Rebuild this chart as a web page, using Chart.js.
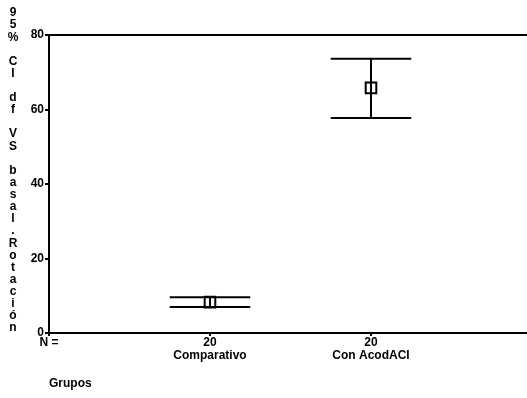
<!DOCTYPE html>
<html>
<head>
<meta charset="utf-8">
<script src="https://cdn.jsdelivr.net/npm/chart.js@4/dist/chart.umd.min.js"></script>
<style>
  html, body { margin: 0; padding: 0; background: #fff; }
  #wrap { width: 527px; height: 398px; }
</style>
</head>
<body>
<div id="wrap"><canvas id="c" width="527" height="398"></canvas></div>
<script>
// Groups, sample sizes and 95% confidence intervals
const groups = ['Comparativo', 'Con AcodACI'];
const nCounts = ['20', '20'];
const means = [8.3, 65.8];
const lower = [7.0, 57.7];
const upper = [9.6, 73.6];
const yTicks = [0, 20, 40, 60, 80];
const yTitle = '95% CI df VS basal.Rotación';
const xTitle = 'Grupos';
const nLabel = 'N =';

const capHalf = 0.25;
const ink = '#000';
const fontFamily = '"Liberation Sans", Arial, Helvetica, sans-serif';

const datasets = [];
groups.forEach((g, i) => {
  const x = i + 1;
  const lineStyle = { showLine: true, borderColor: ink, borderWidth: 2, pointRadius: 0, fill: false };
  datasets.push(Object.assign({ label: g + ' IC', data: [{ x, y: lower[i] }, { x, y: upper[i] }] }, lineStyle));
  datasets.push(Object.assign({ label: g + ' sup', data: [{ x: x - capHalf, y: upper[i] }, { x: x + capHalf, y: upper[i] }] }, lineStyle));
  datasets.push(Object.assign({ label: g + ' inf', data: [{ x: x - capHalf, y: lower[i] }, { x: x + capHalf, y: lower[i] }] }, lineStyle));
  datasets.push({
    label: g + ' media',
    data: [{ x, y: means[i] }],
    showLine: false,
    pointStyle: 'rect',
    pointRadius: 7.5,
    pointBorderWidth: 2,
    pointBorderColor: ink,
    pointBackgroundColor: 'rgba(0,0,0,0)'
  });
});

// Frame lines running to the canvas edge, stacked vertical axis title and the "Grupos" caption
const decorations = {
  id: 'decorations',
  afterDraw(chart) {
    const { ctx, chartArea } = chart;
    ctx.save();
    ctx.strokeStyle = ink;
    ctx.lineWidth = 2;
    ctx.beginPath();
    ctx.moveTo(chartArea.left - 1, chartArea.top);
    ctx.lineTo(chart.width, chartArea.top);
    ctx.moveTo(chartArea.right - 2, chartArea.bottom);
    ctx.lineTo(chart.width, chartArea.bottom);
    ctx.stroke();

    ctx.fillStyle = ink;
    ctx.font = 'bold 12px ' + fontFamily;
    ctx.textAlign = 'center';
    ctx.textBaseline = 'middle';
    const chars = Array.from(yTitle);
    const y0 = chartArea.top - 22;
    const y1 = chartArea.bottom - 5;
    const step = (y1 - y0) / (chars.length - 1);
    chars.forEach((ch, k) => {
      if (ch !== ' ') ctx.fillText(ch, 13, y0 + k * step);
    });

    ctx.textAlign = 'left';
    ctx.fillText(xTitle, chartArea.left, chartArea.bottom + 51);
    ctx.restore();
  }
};

new Chart(document.getElementById('c'), {
  type: 'scatter',
  data: { datasets },
  options: {
    responsive: false,
    devicePixelRatio: 1,
    animation: false,
    layout: { padding: { top: 35, left: 0, right: 0, bottom: 0 } },
    plugins: { legend: { display: false }, tooltip: { enabled: false } },
    scales: {
      x: {
        type: 'linear',
        min: 0,
        max: 2.91,
        afterBuildTicks(scale) {
          scale.ticks = [0].concat(groups.map((g, i) => i + 1)).map(v => ({ value: v }));
        },
        afterFit(scale) { scale.height = 65; },
        border: { display: true, color: ink, width: 2 },
        grid: { drawOnChartArea: false, drawTicks: true, tickLength: 3, color: ink, lineWidth: 2 },
        ticks: {
          color: ink,
          padding: 0,
          maxRotation: 0,
          font: { family: fontFamily, size: 12, weight: 'bold', lineHeight: 1.1 },
          callback(value) {
            if (value === 0) return nLabel;
            const i = value - 1;
            return [nCounts[i], groups[i]];
          }
        }
      },
      y: {
        min: 0,
        max: 80,
        afterBuildTicks(scale) {
          scale.ticks = yTicks.map(v => ({ value: v }));
        },
        afterFit(scale) { scale.width = 49; },
        border: { display: true, color: ink, width: 2 },
        grid: { drawOnChartArea: false, drawTicks: true, tickLength: 4, color: ink, lineWidth: 2 },
        ticks: {
          color: ink,
          padding: 1,
          font: { family: fontFamily, size: 12, weight: 'bold' }
        }
      }
    }
  },
  plugins: [decorations]
});
</script>
</body>
</html>
